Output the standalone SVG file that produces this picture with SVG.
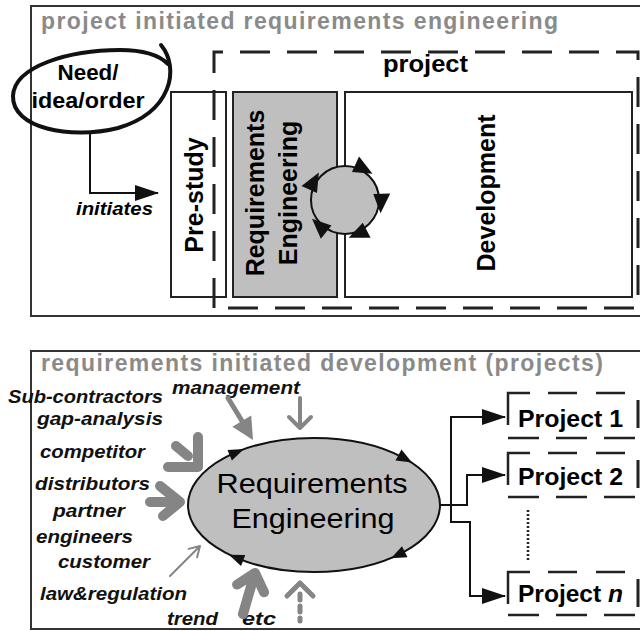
<svg xmlns="http://www.w3.org/2000/svg" width="640" height="631" viewBox="0 0 640 631">
<defs>
<style>
.t{font-family:"Liberation Sans",Arial,sans-serif;}
.b{font-weight:bold;}
.bi{font-weight:bold;font-style:italic;font-size:19px;fill:#111;}
.title{font-weight:bold;font-size:23px;fill:#8a8a8a;}
.frame{fill:none;stroke:#333;stroke-width:2;}
.box{stroke:#222;stroke-width:2;}
.dash{fill:none;stroke:#222;stroke-width:3;stroke-dasharray:30 17;}
.conn{fill:none;stroke:#111;stroke-width:2;}
.g{fill:none;stroke:#858585;stroke-linecap:round;stroke-linejoin:round;}
.tri{fill:#111;}
</style>
<marker id="ah" markerUnits="userSpaceOnUse" markerWidth="24" markerHeight="16" refX="23" refY="8" orient="auto">
<path d="M0,0 L24,8 L0,16 z" fill="#111"/>
</marker>
<path id="ctri" d="M381,212 L390,192 L373,193 Z" class="tri"/>
</defs>
<rect width="640" height="631" fill="#fff"/>

<g id="panel-top">
<rect class="frame" x="31" y="6" width="612" height="310"/>
<text class="t title" x="41" y="29" textLength="517">project initiated requirements engineering</text>
</g>

<g id="prestudy">
<rect class="box" x="171" y="92" width="55" height="205" fill="#fff"/>
<text class="t b" font-size="25" transform="translate(203,195) rotate(-90)" text-anchor="middle" x="0" y="0">Pre-study</text>
</g>

<g id="re-box">
<rect class="box" x="233" y="92" width="104" height="205" fill="#bfbfbf"/>
<text class="t b" font-size="25" transform="translate(264,193) rotate(-90)" text-anchor="middle" x="0" y="0">Requirements</text>
<text class="t b" font-size="25" transform="translate(297,193) rotate(-90)" text-anchor="middle" x="0" y="0">Engineering</text>
</g>

<g id="development">
<rect class="box" x="345" y="92" width="287" height="205" fill="#fff"/>
<text class="t b" font-size="25" transform="translate(495,193) rotate(-90)" text-anchor="middle" x="0" y="0">Development</text>
</g>

<g id="project">
<path class="dash" d="M214,308 V52 H638 V308 Z"/>
<text class="t b" font-size="24" x="383" y="72" textLength="85" lengthAdjust="spacingAndGlyphs">project</text>
</g>

<g id="cycle">
<circle cx="345" cy="200" r="34" fill="#bfbfbf" stroke="#111" stroke-width="2"/>
<use href="#ctri" transform="rotate(-62 345 200)"/>
<use href="#ctri" transform="rotate(2 345 200)"/>
<use href="#ctri" transform="rotate(66 345 200)"/>
<use href="#ctri" transform="rotate(132 345 200)"/>
<use href="#ctri" transform="rotate(208 345 200)"/>
</g>

<g id="need">
<path d="M161,45 C180,68 172,112 118,128 C70,140 12,128 13,96 C14,66 70,50 120,50 C140,50 158,54 168,64" fill="none" stroke="#111" stroke-width="4" stroke-linecap="round"/>
<text class="t b" font-size="22" x="88" y="80" text-anchor="middle" textLength="61" lengthAdjust="spacingAndGlyphs">Need/</text>
<text class="t b" font-size="22" x="88" y="108" text-anchor="middle" textLength="113" lengthAdjust="spacingAndGlyphs">idea/order</text>
</g>

<g id="panel-bottom">
<rect class="frame" x="31" y="351" width="612" height="278"/>
<text class="t title" x="41" y="371" textLength="562">requirements initiated development (projects)</text>
</g>

<g id="sources">
<text class="t bi" x="8" y="403" textLength="155" lengthAdjust="spacingAndGlyphs">Sub-contractors</text>
<text class="t bi" font-size="18" x="172" y="394" textLength="128" lengthAdjust="spacingAndGlyphs">management</text>
<text class="t bi" x="37" y="425" textLength="126" lengthAdjust="spacingAndGlyphs">gap-analysis</text>
<text class="t bi" x="40" y="458" textLength="105" lengthAdjust="spacingAndGlyphs">competitor</text>
<text class="t bi" x="35" y="490" textLength="115" lengthAdjust="spacingAndGlyphs">distributors</text>
<text class="t bi" x="53" y="517" textLength="72" lengthAdjust="spacingAndGlyphs">partner</text>
<text class="t bi" x="36" y="543" textLength="97" lengthAdjust="spacingAndGlyphs">engineers</text>
<text class="t bi" x="58" y="568" textLength="92" lengthAdjust="spacingAndGlyphs">customer</text>
<text class="t bi" x="40" y="600" textLength="147" lengthAdjust="spacingAndGlyphs">law&amp;regulation</text>
<text class="t bi" x="167" y="625" textLength="51" lengthAdjust="spacingAndGlyphs">trend</text>
<text class="t bi" x="242" y="625" textLength="34" lengthAdjust="spacingAndGlyphs">etc</text>
</g>

<g id="re-ellipse">
<ellipse cx="314" cy="505" rx="126" ry="67" fill="#bfbfbf" stroke="#111" stroke-width="2"/>
<text class="t" font-size="28" x="312" y="493" text-anchor="middle" textLength="191" lengthAdjust="spacingAndGlyphs">Requirements</text>
<text class="t" font-size="28" x="313" y="528" text-anchor="middle" textLength="163" lengthAdjust="spacingAndGlyphs">Engineering</text>
<path class="tri" d="M244,449 L231.9,460.5 L227.5,450 Z"/>
<path class="tri" d="M412,462.5 L395.5,460.5 L401.5,449.5 Z"/>
<path class="tri" d="M391,558.3 L402,546.3 L407.5,557.3 Z"/>
<path class="tri" d="M228.9,554.7 L245.3,554.9 L241,566.1 Z"/>
</g>

<g id="project1">
<path d="M508,425 V393 H530" fill="none" stroke="#222" stroke-width="2.5"/>
<path d="M548,393 H640" fill="none" stroke="#222" stroke-width="2.5" stroke-dasharray="29 19"/>
<path d="M508,438 H640" fill="none" stroke="#222" stroke-width="2.5" stroke-dasharray="31 17"/>
<path d="M638,400 V428" stroke="#222" stroke-width="3"/>
<text class="t b" font-size="23" x="518" y="427" textLength="105" lengthAdjust="spacingAndGlyphs">Project 1</text>
</g>
<g id="project2">
<path d="M508,485 V453 H530" fill="none" stroke="#222" stroke-width="2.5"/>
<path d="M548,453 H640" fill="none" stroke="#222" stroke-width="2.5" stroke-dasharray="29 19"/>
<path d="M508,497 H640" fill="none" stroke="#222" stroke-width="2.5" stroke-dasharray="31 17"/>
<path d="M638,460 V488" stroke="#222" stroke-width="3"/>
<text class="t b" font-size="23" x="518" y="485" textLength="105" lengthAdjust="spacingAndGlyphs">Project 2</text>
</g>
<g id="projectn">
<path d="M508,604 V572 H530" fill="none" stroke="#222" stroke-width="2.5"/>
<path d="M548,572 H640" fill="none" stroke="#222" stroke-width="2.5" stroke-dasharray="29 19"/>
<path d="M508,615 H640" fill="none" stroke="#222" stroke-width="2.5" stroke-dasharray="31 17"/>
<path d="M638,579 V607" stroke="#222" stroke-width="3"/>
<text class="t b" font-size="23" x="518" y="602" textLength="105" lengthAdjust="spacingAndGlyphs">Project <tspan font-style="italic">n</tspan></text>
</g>
<g id="ellipsis">
<path d="M528,510 V560" stroke="#222" stroke-width="2.5" stroke-dasharray="2 2"/>
</g>

<g id="connectors">
<path class="conn" d="M90,131 V193 H158" marker-end="url(#ah)"/>
<text class="t b" font-style="italic" font-size="19" x="76" y="215" textLength="77" lengthAdjust="spacingAndGlyphs">initiates</text>
<path class="conn" d="M440,505 H467 V475 H505" marker-end="url(#ah)"/>
<path class="conn" d="M451,505 V417 H505" marker-end="url(#ah)"/>
<path class="conn" d="M451,505 V522 H470 V596 H505" marker-end="url(#ah)"/>
<path class="g" d="M228,398 L242,421" stroke-width="5"/>
<path d="M253,440 L232.4,426.7 L251.2,415.5 Z" fill="#858585"/>
<path class="g" d="M300,398 V428 M289,417 L300,428 L311,417" stroke-width="4"/>
<path class="g" d="M168,467 H198 V437" stroke-width="10"/>
<path class="g" d="M176,446 L188,456" stroke-width="10"/>
<path class="g" d="M150,502 H176 M160,486 L180,502 L163,516" stroke-width="10"/>
<path class="g" d="M170,576 L200,546 M197.1,557.3 L200,546 L188.7,548.9" stroke-width="2"/>
<path class="g" d="M243,614 L254,576 M237.1,584.6 L255,573 L264.1,592.3" stroke-width="10"/>
<path class="g" d="M287,596 L300,583 L313,596" stroke-width="5"/>
<path class="g" d="M300,594 V621" stroke-width="5" stroke-dasharray="6 6" stroke-linecap="butt"/>
</g>
</svg>
